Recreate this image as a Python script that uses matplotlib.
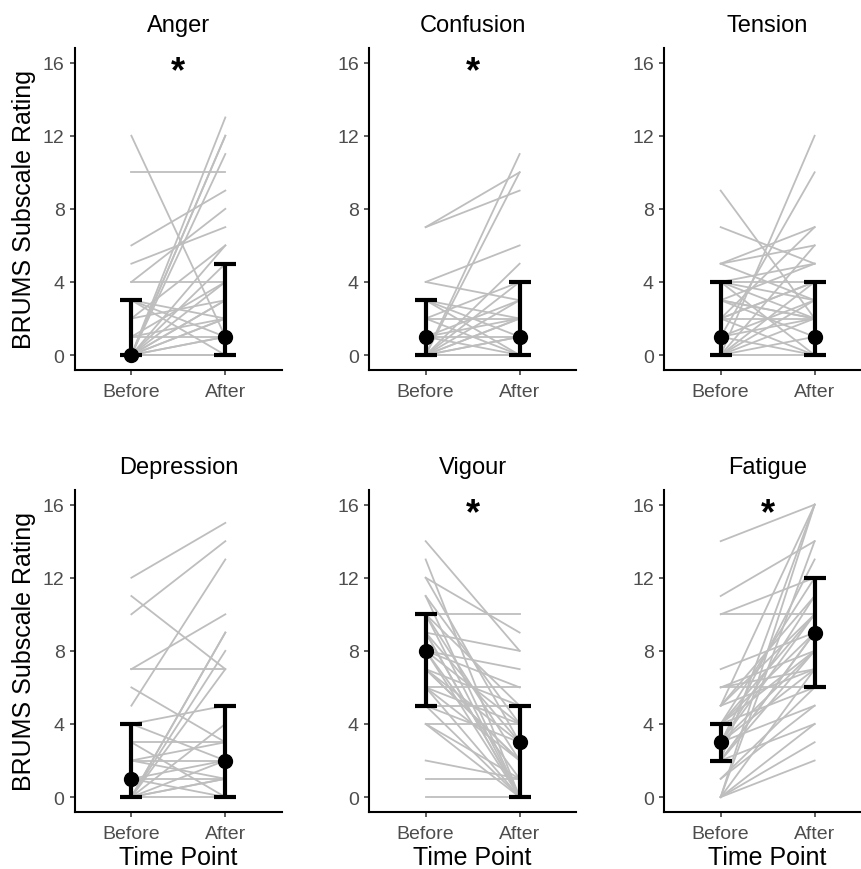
import numpy as np
import matplotlib
matplotlib.use("Agg")
import matplotlib.pyplot as plt

plt.rcParams['font.family'] = ['Liberation Sans', 'DejaVu Sans']

subscales = ['Anger', 'Confusion', 'Tension', 'Depression', 'Vigour', 'Fatigue']
time_labels = ['Before', 'After']
significant = [True, True, False, False, True, True]

# individual participant ratings (before, after)
anger_before = [12, 10, 6, 5, 4, 4, 3, 3, 3, 2, 2, 1, 1, 1, 0, 0, 0, 0, 0, 0, 0, 0, 0, 0, 0, 0, 0, 0, 0, 0]
anger_after = [1, 10, 9, 7, 4, 8, 2, 1, 0, 3, 6, 1, 2, 4, 13, 12, 12, 11, 6, 5, 3, 2, 1, 0, 0, 4, 0, 3, 2, 1]
confusion_before = [7, 7, 4, 4, 3, 3, 3, 2, 2, 2, 1, 1, 1, 1, 0, 0, 0, 0, 0, 0, 0, 0, 0, 0, 0, 0]
confusion_after = [10, 9, 3, 6, 2, 0, 1, 2, 0, 4, 0, 2, 1, 3, 11, 10, 5, 4, 2, 1, 0, 0, 1, 3, 0, 2]
tension_before = [9, 7, 5, 5, 5, 4, 4, 4, 4, 3, 3, 3, 2, 2, 2, 2, 1, 1, 1, 0, 0, 0, 0, 0, 0, 0, 2, 3, 1, 4]
tension_after = [2, 5, 7, 6, 3, 4, 2, 0, 3, 2, 5, 1, 7, 0, 4, 2, 10, 2, 3, 12, 6, 4, 1, 0, 3, 2, 4, 2, 0, 5]
depression_before = [12, 10, 11, 5, 7, 7, 6, 4, 4, 3, 2, 2, 2, 1, 1, 1, 0, 0, 0, 0, 0, 0, 0, 0, 0, 3]
depression_after = [15, 14, 7, 13, 10, 7, 3, 5, 2, 0, 2, 3, 1, 1, 2, 0, 9, 8, 9, 7, 4, 0, 1, 2, 1, 3]
vigour_before = [14, 13, 12, 11, 11, 10, 10, 10, 9, 9, 9, 8, 8, 8, 8, 7, 7, 7, 6, 6, 6, 5, 5, 5, 4, 4, 4, 2, 1, 0, 12, 9, 7, 8, 10, 6]
vigour_after = [8, 0, 9, 4, 0, 10, 5, 2, 8, 3, 0, 6, 1, 4, 0, 5, 3, 2, 6, 0, 2, 5, 0, 3, 4, 1, 0, 1, 1, 0, 3, 0, 2, 7, 0, 4]
fatigue_before = [14, 11, 10, 10, 7, 6, 6, 5, 5, 5, 4, 4, 4, 4, 3, 3, 3, 3, 3, 2, 2, 2, 2, 1, 1, 0, 0, 0, 0, 0, 0, 3, 4, 2, 5, 6]
fatigue_after = [16, 14, 12, 10, 9, 6, 8, 10, 7, 16, 12, 9, 8, 6, 13, 11, 7, 5, 10, 16, 9, 8, 4, 6, 5, 16, 14, 4, 3, 2, 7, 8, 10, 9, 11, 7]

# summary: median and interquartile range
median_before = [0, 1, 1, 1, 8, 3]
median_after = [1, 1, 1, 2, 3, 9]
low_before = [0, 0, 0, 0, 5, 2]
high_before = [3, 3, 4, 4, 10, 4]
low_after = [0, 0, 0, 0, 0, 6]
high_after = [5, 4, 4, 5, 5, 12]

befores = [anger_before, confusion_before, tension_before, depression_before, vigour_before, fatigue_before]
afters = [anger_after, confusion_after, tension_after, depression_after, vigour_after, fatigue_after]

W, H = 861, 870
fig = plt.figure(figsize=(W / 100, H / 100), dpi=100)

lefts = [75, 369.3, 664.3]
bottoms = [370.7, 812.7]
aw, ah = 206.7, 321.7

for i, name in enumerate(subscales):
    r, c = divmod(i, 3)
    ax = fig.add_axes([lefts[c] / W, 1 - bottoms[r] / H, aw / W, ah / H])
    b = np.array(befores[i])
    a = np.array(afters[i])
    for yb, ya in zip(b, a):
        ax.plot([1, 2], [yb, ya], color='#BEBEBE', lw=1.3, zorder=1)

    meds = [median_before[i], median_after[i]]
    lo = [meds[0] - low_before[i], meds[1] - low_after[i]]
    hi = [high_before[i] - meds[0], high_after[i] - meds[1]]
    ax.errorbar([1, 2], meds, yerr=[lo, hi], fmt='o', color='black', ms=10,
                elinewidth=3, capsize=8, capthick=3, zorder=3)

    if significant[i]:
        ax.text(1.5, 15.5, '*', ha='center', va='center', fontsize=26, fontweight='bold')

    ax.set_xlim(0.4, 2.6)
    ax.set_ylim(-0.8, 16.8)
    ax.set_xticks([1, 2])
    ax.set_xticklabels(time_labels)
    ax.set_yticks([0, 4, 8, 12, 16])
    for s in ['top', 'right']:
        ax.spines[s].set_visible(False)
    for s in ['left', 'bottom']:
        ax.spines[s].set_linewidth(1.5)
    ax.tick_params(labelsize=14, labelcolor='#4D4D4D', color='#333333',
                   length=3.5, width=1.1)
    ax.tick_params(axis='x', pad=6)
    ax.tick_params(axis='y', pad=4)
    ax.set_title(name, fontsize=17, pad=12)
    if c == 0:
        ax.set_ylabel('BRUMS Subscale Rating', fontsize=18, labelpad=5)
    if r == 1:
        ax.set_xlabel('Time Point', fontsize=18, labelpad=2)

fig.savefig('out.png', dpi=100)
